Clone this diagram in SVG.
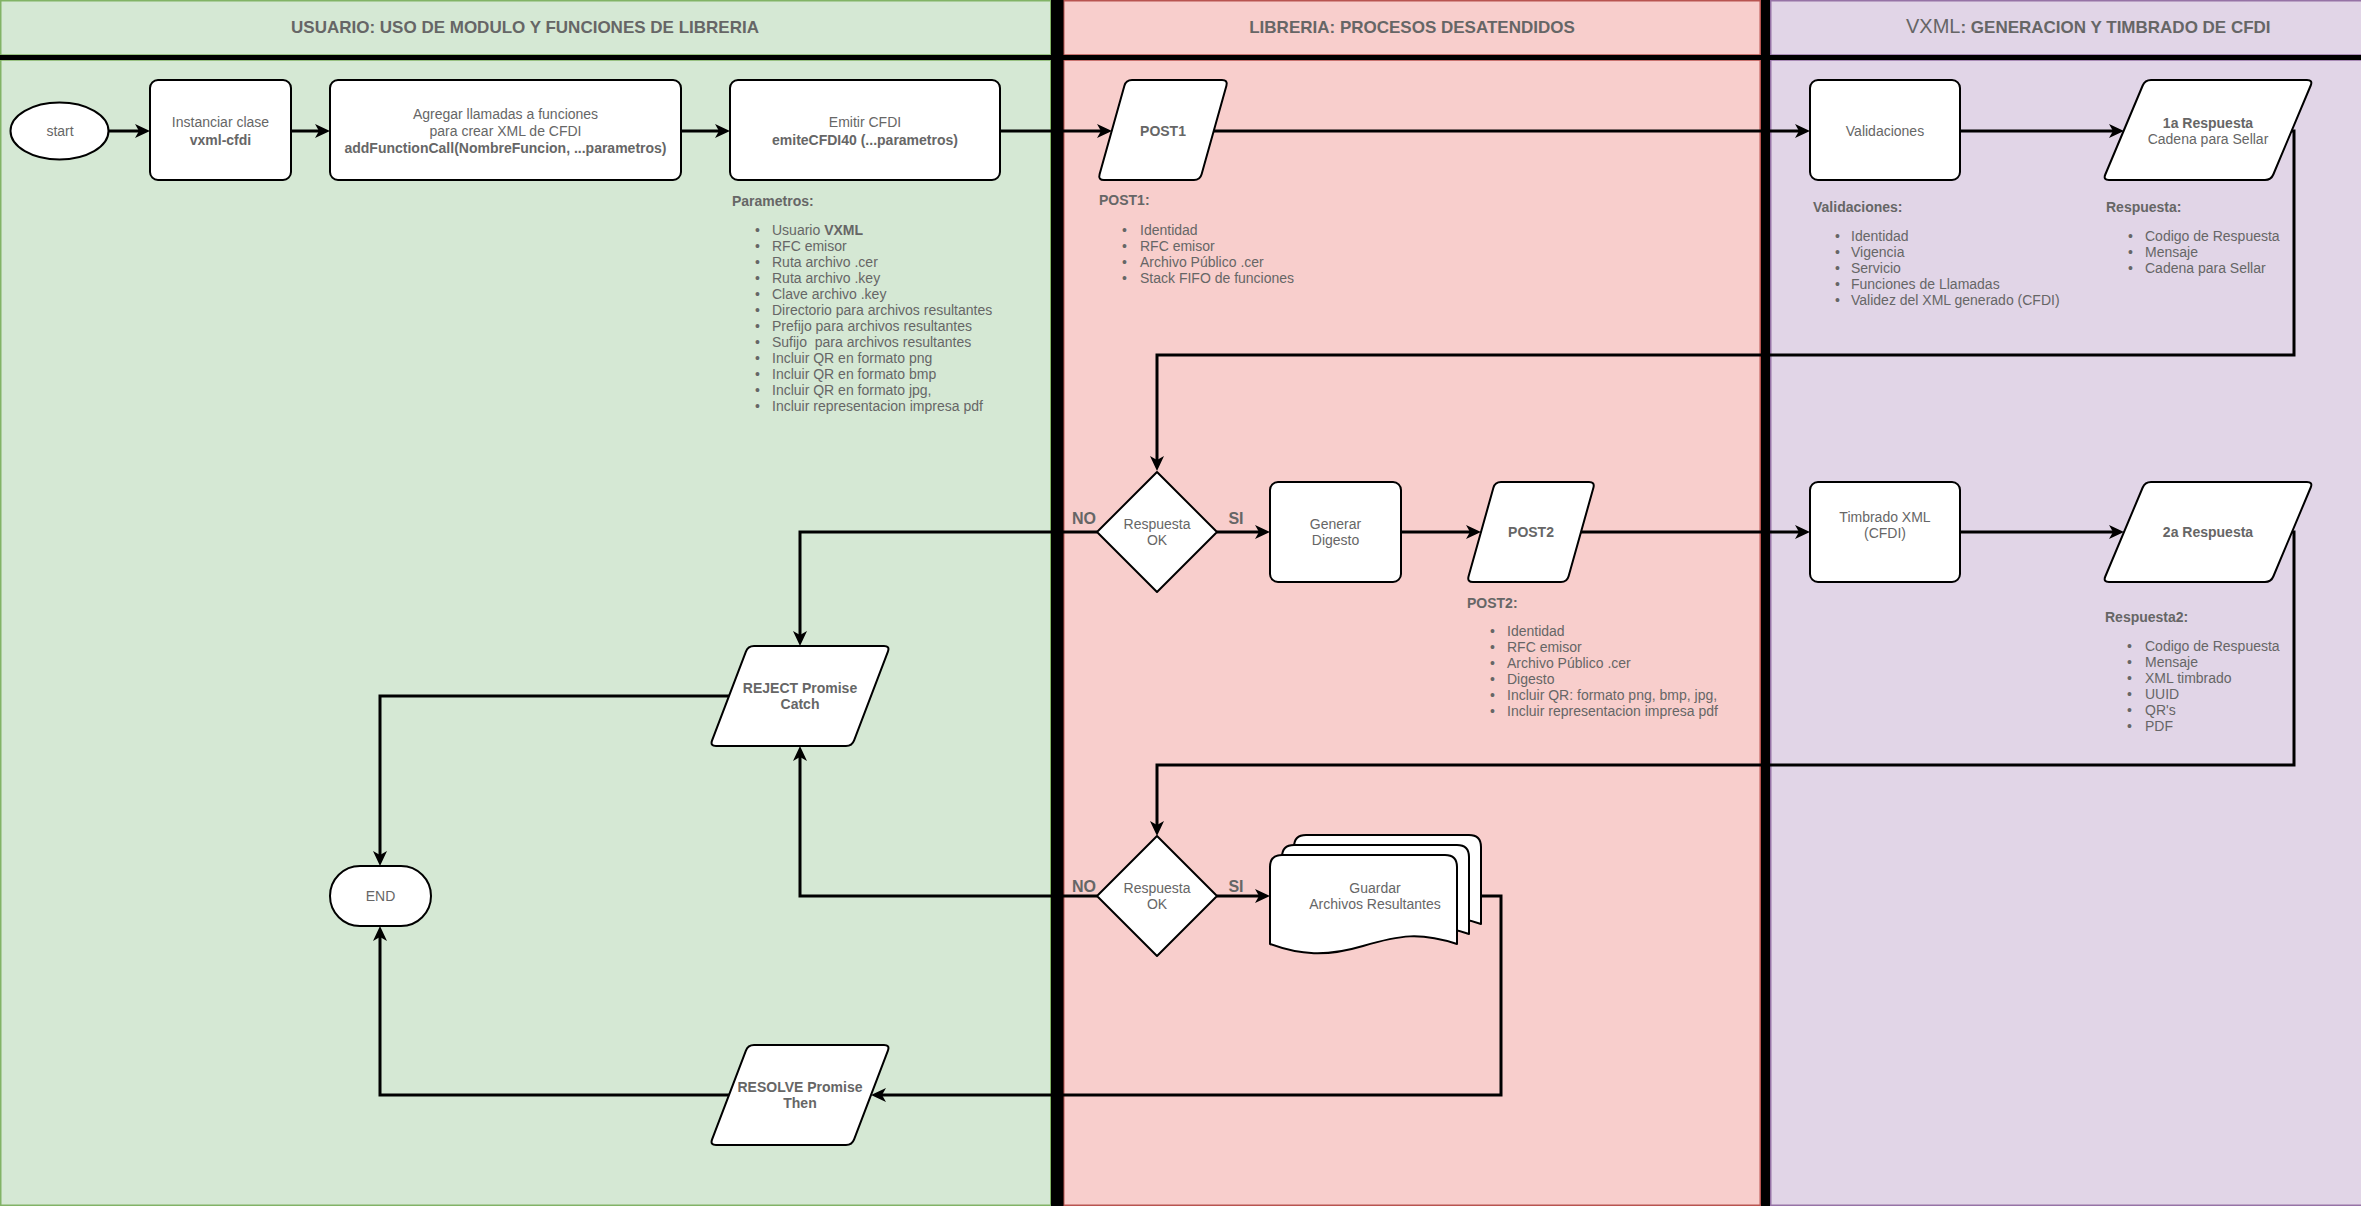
<svg xmlns="http://www.w3.org/2000/svg" width="2361" height="1206" viewBox="0 0 2361 1206">
<defs>
<style>
.lg{fill:#d5e8d4;stroke:#82b366;stroke-width:1.5}
.lr{fill:#f8cecc;stroke:#b85450;stroke-width:1.5}
.lp{fill:#e1d5e7;stroke:#9673a6;stroke-width:1.5}
.node{fill:#ffffff;stroke:#000000;stroke-width:2;stroke-linejoin:round}
.edge{fill:none;stroke:#000000;stroke-width:3;marker-end:url(#arr)}
text{font-family:"Liberation Sans",Arial,Helvetica,sans-serif;font-size:14px;fill:#666666}
.c{text-anchor:middle}
.b{font-weight:bold}
.h{font-size:17px;font-weight:bold}
.lbl{font-size:16px;font-weight:bold;text-anchor:middle}
</style>
<marker id="arr" markerUnits="userSpaceOnUse" markerWidth="15" markerHeight="14" refX="4" refY="7" orient="auto">
<path d="M0,0 L15,7 L0,14 L4,7 Z" fill="#000000"/>
</marker>
</defs>

<g id="lanes">
<rect class="lg" x="0.75" y="0.75" width="1050" height="54.25"/>
<rect class="lg" x="0.75" y="60" width="1050" height="1145.25"/>
<rect class="lr" x="1063.75" y="0.75" width="696.5" height="54.25"/>
<rect class="lr" x="1063.75" y="60" width="696.5" height="1145.25"/>
<rect class="lp" x="1770.75" y="0.75" width="1600" height="54.25"/>
<rect class="lp" x="1770.75" y="60" width="1600" height="1145.25"/>
<rect x="0" y="55" width="2361" height="5" fill="#000000"/>
<rect x="1051" y="0" width="12.5" height="1206" fill="#000000"/>
<rect x="1761" y="0" width="9" height="1206" fill="#000000"/>
<text class="h c" x="525" y="33">USUARIO: USO DE MODULO Y FUNCIONES DE LIBRERIA</text>
<text class="h c" x="1412" y="33">LIBRERIA: PROCESOS DESATENDIDOS</text>
<text class="h" x="1906" y="33"><tspan font-size="20px" font-weight="normal">VXML</tspan>: GENERACION Y TIMBRADO DE CFDI</text>
</g>

<g id="connectors">
<path class="edge" d="M108,131 H139"/>
<path class="edge" d="M291,131 H319"/>
<path class="edge" d="M681,131 H719"/>
<path class="edge" d="M1000,131 H1101"/>
<path class="edge" d="M1214,131 H1799"/>
<path class="edge" d="M1960,131 H2113"/>
<path class="edge" d="M2292,131 H2294 V355 H1157 V460"/>
<path class="edge" d="M1217,532 H1259"/>
<path class="edge" d="M1401,532 H1470"/>
<path class="edge" d="M1581,532 H1799"/>
<path class="edge" d="M1960,532 H2113"/>
<path class="edge" d="M2292,532 H2294 V765 H1157 V825"/>
<path class="edge" d="M1097,532 H800 V635"/>
<path class="edge" d="M1097,896 H800 V757"/>
<path class="edge" d="M729,696 H380 V855"/>
<path class="edge" d="M1217,896 H1259"/>
<path class="edge" d="M1481,896 H1501 V1095 H882"/>
<path class="edge" d="M729,1095 H380 V937"/>
<text class="lbl" x="1084" y="524">NO</text>
<text class="lbl" x="1236" y="524">SI</text>
<text class="lbl" x="1084" y="892">NO</text>
<text class="lbl" x="1236" y="892">SI</text>
</g>

<g id="start">
<ellipse class="node" cx="59.5" cy="131" rx="49" ry="28.5"/>
<text class="c" x="60" y="136">start</text>
</g>

<g id="instanciar">
<rect class="node" x="150" y="80" width="141" height="100" rx="8"/>
<text class="c" x="220.5" y="127">Instanciar clase</text>
<text class="c b" x="220.5" y="145">vxml-cfdi</text>
</g>

<g id="agregar">
<rect class="node" x="330" y="80" width="351" height="100" rx="8"/>
<text class="c" x="505.5" y="119">Agregar llamadas a funciones</text>
<text class="c" x="505.5" y="136">para crear XML de CFDI</text>
<text class="c b" x="505.5" y="153">addFunctionCall(NombreFuncion, ...parametros)</text>
</g>

<g id="emitir">
<rect class="node" x="730" y="80" width="270" height="100" rx="8"/>
<text class="c" x="865" y="127">Emitir CFDI</text>
<text class="c b" x="865" y="145">emiteCFDI40 (...parametros)</text>
</g>

<g id="parametros">
<text class="b" x="732" y="206">Parametros:</text>
<g>
<text x="755" y="235">•</text><text x="772" y="235">Usuario <tspan font-weight="bold">VXML</tspan></text>
<text x="755" y="251">•</text><text x="772" y="251">RFC emisor</text>
<text x="755" y="267">•</text><text x="772" y="267">Ruta archivo .cer</text>
<text x="755" y="283">•</text><text x="772" y="283">Ruta archivo .key</text>
<text x="755" y="299">•</text><text x="772" y="299">Clave archivo .key</text>
<text x="755" y="315">•</text><text x="772" y="315">Directorio para archivos resultantes</text>
<text x="755" y="331">•</text><text x="772" y="331">Prefijo para archivos resultantes</text>
<text x="755" y="347">•</text><text x="772" y="347" xml:space="preserve">Sufijo  para archivos resultantes</text>
<text x="755" y="363">•</text><text x="772" y="363">Incluir QR en formato png</text>
<text x="755" y="379">•</text><text x="772" y="379">Incluir QR en formato bmp</text>
<text x="755" y="395">•</text><text x="772" y="395">Incluir QR en formato jpg,</text>
<text x="755" y="411">•</text><text x="772" y="411">Incluir representacion impresa pdf</text>
</g>
</g>

<g id="post1">
<path class="node" d="M1132,80 L1222,80 Q1228,80 1226.4,85.8 L1201.6,174.2 Q1200,180 1194,180 L1104,180 Q1098,180 1099.6,174.2 L1124.4,85.8 Q1126,80 1132,80 Z"/>
<text class="c b" x="1163" y="136">POST1</text>
</g>

<g id="post1-info">
<text class="b" x="1099" y="205">POST1:</text>
<text x="1122" y="235">•</text><text x="1140" y="235">Identidad</text>
<text x="1122" y="251">•</text><text x="1140" y="251">RFC emisor</text>
<text x="1122" y="267">•</text><text x="1140" y="267">Archivo Público .cer</text>
<text x="1122" y="283">•</text><text x="1140" y="283">Stack FIFO de funciones</text>
</g>

<g id="validaciones">
<rect class="node" x="1810" y="80" width="150" height="100" rx="8"/>
<text class="c" x="1885" y="136">Validaciones</text>
</g>

<g id="validaciones-info">
<text class="b" x="1813" y="212">Validaciones:</text>
<text x="1835" y="241">•</text><text x="1851" y="241">Identidad</text>
<text x="1835" y="257">•</text><text x="1851" y="257">Vigencia</text>
<text x="1835" y="273">•</text><text x="1851" y="273">Servicio</text>
<text x="1835" y="289">•</text><text x="1851" y="289">Funciones de Llamadas</text>
<text x="1835" y="305">•</text><text x="1851" y="305">Validez del XML generado (CFDI)</text>
</g>

<g id="respuesta1">
<path class="node" d="M2151,80 L2307,80 Q2313,80 2310.7,85.5 L2273.3,174.5 Q2271,180 2265,180 L2109,180 Q2103,180 2105.3,174.5 L2142.7,85.5 Q2145,80 2151,80 Z"/>
<text class="c b" x="2208" y="128">1a Respuesta</text>
<text class="c" x="2208" y="144">Cadena para Sellar</text>
</g>

<g id="respuesta1-info">
<text class="b" x="2106" y="212">Respuesta:</text>
<text x="2128" y="241">•</text><text x="2145" y="241">Codigo de Respuesta</text>
<text x="2128" y="257">•</text><text x="2145" y="257">Mensaje</text>
<text x="2128" y="273">•</text><text x="2145" y="273">Cadena para Sellar</text>
</g>

<g id="decision1">
<path class="node" d="M1157,472 L1217,532 L1157,592 L1097,532 Z"/>
<text class="c" x="1157" y="529">Respuesta</text>
<text class="c" x="1157" y="545">OK</text>
</g>

<g id="generar">
<rect class="node" x="1270" y="482" width="131" height="100" rx="8"/>
<text class="c" x="1335.5" y="529">Generar</text>
<text class="c" x="1335.5" y="545">Digesto</text>
</g>

<g id="post2">
<path class="node" d="M1501,482 L1589,482 Q1595,482 1593.4,487.8 L1568.6,576.2 Q1567,582 1561,582 L1473,582 Q1467,582 1468.6,576.2 L1493.4,487.8 Q1495,482 1501,482 Z"/>
<text class="c b" x="1531" y="537">POST2</text>
</g>

<g id="post2-info">
<text class="b" x="1467" y="608">POST2:</text>
<text x="1490" y="636">•</text><text x="1507" y="636">Identidad</text>
<text x="1490" y="652">•</text><text x="1507" y="652">RFC emisor</text>
<text x="1490" y="668">•</text><text x="1507" y="668">Archivo Público .cer</text>
<text x="1490" y="684">•</text><text x="1507" y="684">Digesto</text>
<text x="1490" y="700">•</text><text x="1507" y="700">Incluir QR: formato png, bmp, jpg,</text>
<text x="1490" y="716">•</text><text x="1507" y="716">Incluir representacion impresa pdf</text>
</g>

<g id="timbrado">
<rect class="node" x="1810" y="482" width="150" height="100" rx="8"/>
<text class="c" x="1885" y="522">Timbrado XML</text>
<text class="c" x="1885" y="538">(CFDI)</text>
</g>

<g id="respuesta2">
<path class="node" d="M2151,482 L2307,482 Q2313,482 2310.7,487.5 L2273.3,576.5 Q2271,582 2265,582 L2109,582 Q2103,582 2105.3,576.5 L2142.7,487.5 Q2145,482 2151,482 Z"/>
<text class="c b" x="2208" y="537">2a Respuesta</text>
</g>

<g id="respuesta2-info">
<text class="b" x="2105" y="622">Respuesta2:</text>
<text x="2127" y="651">•</text><text x="2145" y="651">Codigo de Respuesta</text>
<text x="2127" y="667">•</text><text x="2145" y="667">Mensaje</text>
<text x="2127" y="683">•</text><text x="2145" y="683">XML timbrado</text>
<text x="2127" y="699">•</text><text x="2145" y="699">UUID</text>
<text x="2127" y="715">•</text><text x="2145" y="715">QR's</text>
<text x="2127" y="731">•</text><text x="2145" y="731">PDF</text>
</g>

<g id="reject">
<path class="node" d="M754,646 L884,646 Q890,646 887.9,651.6 L854.1,740.4 Q852,746 846,746 L716,746 Q710,746 712.1,740.4 L745.9,651.6 Q748,646 754,646 Z"/>
<text class="c b" x="800" y="693">REJECT Promise</text>
<text class="c b" x="800" y="709">Catch</text>
</g>

<g id="end">
<rect class="node" x="330" y="866" width="101" height="60" rx="30" ry="30"/>
<text class="c" x="380.5" y="901">END</text>
</g>

<g id="decision2">
<path class="node" d="M1157,836 L1217,896 L1157,956 L1097,896 Z"/>
<text class="c" x="1157" y="893">Respuesta</text>
<text class="c" x="1157" y="909">OK</text>
</g>

<g id="guardar">
<path class="node" d="M1306,835 L1469,835 Q1481,835 1481,847 L1481,924 C1444,912 1424,915 1387,926 C1350,937 1324,935 1294,924 L1294,847 Q1294,835 1306,835 Z"/>
<path class="node" d="M1294,845 L1457,845 Q1469,845 1469,857 L1469,934 C1432,922 1412,925 1375,936 C1338,947 1312,945 1282,934 L1282,857 Q1282,845 1294,845 Z"/>
<path class="node" d="M1282,855 L1445,855 Q1457,855 1457,867 L1457,944 C1420,932 1400,935 1363,946 C1326,957 1300,955 1270,944 L1270,867 Q1270,855 1282,855 Z"/>
<text class="c" x="1375" y="893">Guardar</text>
<text class="c" x="1375" y="909">Archivos Resultantes</text>
</g>

<g id="resolve">
<path class="node" d="M754,1045 L884,1045 Q890,1045 887.9,1050.6 L854.1,1139.4 Q852,1145 846,1145 L716,1145 Q710,1145 712.1,1139.4 L745.9,1050.6 Q748,1045 754,1045 Z"/>
<text class="c b" x="800" y="1092">RESOLVE Promise</text>
<text class="c b" x="800" y="1108">Then</text>
</g>
</svg>
